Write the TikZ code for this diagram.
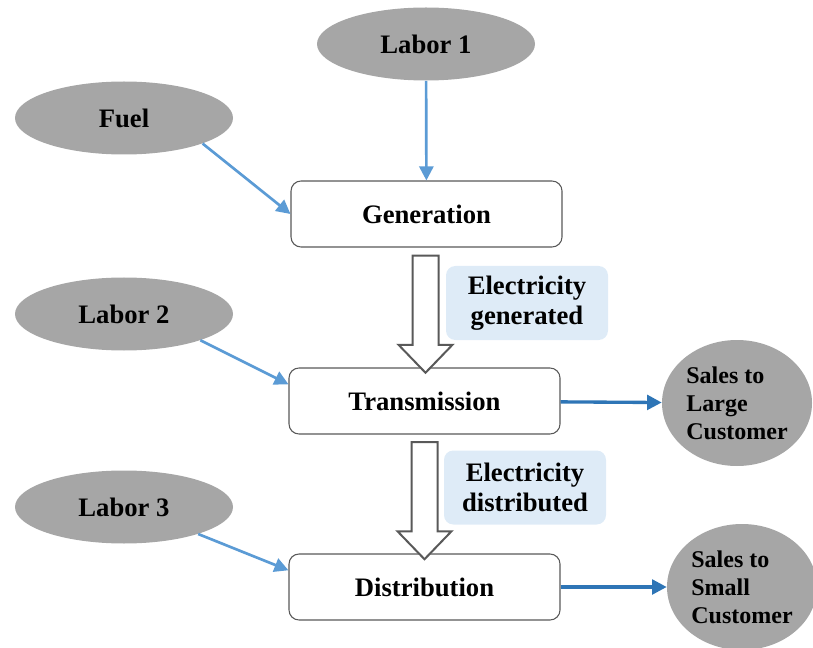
\documentclass[tikz,border=0pt]{standalone}
\usepackage{fontspec}
\setmainfont{Liberation Serif}
\usetikzlibrary{arrows.meta,shapes.geometric,shapes.arrows,calc}
\definecolor{ovalgray}{HTML}{A6A6A6}
\definecolor{feedblue}{HTML}{5B9BD5}
\definecolor{saleblue}{HTML}{2E75B6}
\definecolor{tagblue}{HTML}{DEEBF7}
\definecolor{edgegray}{HTML}{595959}
\begin{document}
\begin{tikzpicture}[x=0.75pt,y=-0.75pt,
  input/.style={ellipse,fill=ovalgray,inner sep=0pt,minimum width=163.5pt,minimum height=54.75pt,font=\fontsize{20}{22.5}\selectfont\bfseries},
  sale/.style={ellipse,fill=ovalgray,inner sep=0pt,minimum width=112.5pt,minimum height=94.5pt,align=left,font=\fontsize{18}{21}\selectfont\bfseries},
  stage/.style={draw=edgegray,line width=0.8pt,rounded corners=7.5pt,fill=white,minimum width=203.25pt,minimum height=49.5pt,font=\fontsize{20}{22.5}\selectfont\bfseries},
  tag/.style={fill=tagblue,rounded corners=7pt,minimum width=121.5pt,minimum height=55.5pt,align=center,font=\fontsize{20}{22.5}\selectfont\bfseries},
  hollow/.style={single arrow,draw=edgegray,line width=1.5pt,fill=white,inner sep=9pt,single arrow head extend=10.5pt,single arrow tip angle=88,minimum height=87.75pt,rotate=-90},
  feed/.style={draw=feedblue,line width=2pt,-{Triangle[length=10.5pt,width=10.5pt]}},
  sell/.style={draw=saleblue,line width=2.5pt,-{Triangle[length=11pt,width=11pt]}}]
\useasboundingbox (0,0) rectangle (813,648);
\node[input] (labor1) at (426,44) {Labor 1};
\node[input] (fuel) at (124,118) {Fuel};
\node[input] (labor2) at (124,314) {Labor 2};
\node[input] (labor3) at (124,507) {Labor 3};
\node[stage] (gen) at (426.5,214) {Generation};
\node[stage] (trans) at (424.5,401) {Transmission};
\node[stage] (dist) at (424.5,587) {Distribution};
\node[hollow] (flow1) at ($(gen.south)!0.5!(trans.north)$) {};
\node[hollow] (flow2) at ($(trans.south)!0.5!(dist.north)$) {};
\node[tag] (tag1) at (527,303) {Electricity\\generated};
\node[tag] (tag2) at (525,487.5) {Electricity\\distributed};
\node[sale] (large) at (737,403) {Sales to\\Large\\Customer};
\node[sale] (small) at (742,587) {Sales to\\Small\\Customer};
\draw[feed] (labor1) -- (gen);
\draw[feed] (fuel.-18) -- (gen.west);
\draw[feed] (labor2.-19) -- (trans.173);
\draw[feed] (labor3.-20) -- (dist.173);
\draw[sell] (trans) -- (large);
\draw[sell] (dist) -- (small);
\end{tikzpicture}
\end{document}
